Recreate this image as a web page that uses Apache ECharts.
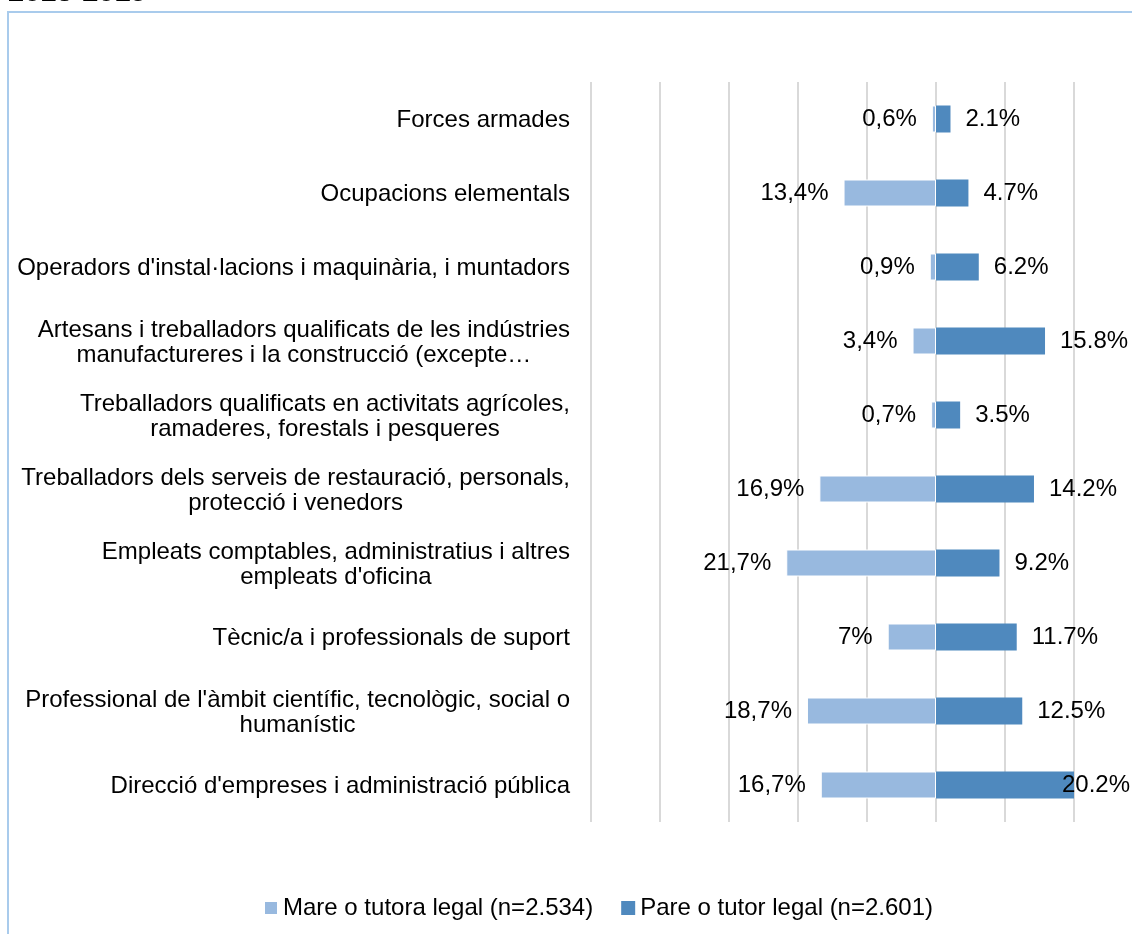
<!DOCTYPE html>
<html>
<head>
<meta charset="utf-8">
<script src="https://cdn.jsdelivr.net/npm/echarts@6/dist/echarts.min.js"></script>
<style>
  html, body { margin: 0; padding: 0; background: #fff; }
  #chart { width: 1132px; height: 934px; }
</style>
</head>
<body>
<div id="chart"></div>
<script>
// categories, top to bottom
const categories = [
  "Forces armades",
  "Ocupacions elementals",
  "Operadors d'instal·lacions i maquinària, i muntadors",
  "Artesans i treballadors qualificats de les indústries\nmanufactureres i la construcció (excepte…",
  "Treballadors qualificats en activitats agrícoles,\nramaderes, forestals i pesqueres",
  "Treballadors dels serveis de restauració, personals,\nprotecció i venedors",
  "Empleats comptables, administratius i altres\nempleats d'oficina",
  "Tècnic/a i professionals de suport",
  "Professional de l'àmbit científic, tecnològic, social o\nhumanístic",
  "Direcció d'empreses i administració pública"
];
const mare = [0.6, 13.4, 0.9, 3.4, 0.7, 16.9, 21.7, 7, 18.7, 16.7];
const pare = [2.1, 4.7, 6.2, 15.8, 3.5, 14.2, 9.2, 11.7, 12.5, 20.2];
const seriesNames = ["Mare o tutora legal (n=2.534)", "Pare o tutor legal (n=2.601)"];
const title = "2013-2019";

const FONT = "'Liberation Sans', Arial, sans-serif";
const FS = 24;
const axisMin = -50, axisMax = 20;

const chart = echarts.init(document.getElementById("chart"));

const option = {
  animation: false,
  textStyle: { fontFamily: FONT },
  color: ["#98B9DF", "#4F89BE"],
  graphic: [
    {
      type: "rect",
      shape: { x: 8, y: 12, width: 1300, height: 1100 },
      style: { fill: "none", stroke: "#A9CBEC", lineWidth: 2 },
      silent: true
    },
    {
      type: "text",
      x: 8, y: 7,
      style: {
        text: title,
        font: "bold 29px " + FONT,
        fill: "#000",
        verticalAlign: "bottom"
      },
      silent: true
    }
  ],
  legend: {
    left: 258,
    top: 891,
    itemWidth: 14,
    itemHeight: 14,
    itemGap: 28,
    icon: "rect",
    textStyle: { fontSize: FS, color: "#000", fontFamily: FONT },
    data: seriesNames
  },
  grid: { left: 591, right: 58, top: 82, bottom: 112, containLabel: false },
  xAxis: {
    type: "value",
    min: axisMin,
    max: axisMax,
    interval: 10,
    axisLabel: { show: false },
    axisLine: { show: false },
    axisTick: { show: false },
    splitLine: { show: true, lineStyle: { color: "#D9D9D9", width: 2 } }
  },
  yAxis: {
    type: "category",
    inverse: true,
    data: categories,
    axisLine: { show: false },
    axisTick: { show: false },
    axisLabel: {
      margin: 21,
      align: "right",
      color: "#000",
      formatter: function (v) {
        return v.split("\n").map(function (l) { return "{c|" + l + "}"; }).join("\n");
      },
      rich: {
        c: { align: "center", fontSize: FS, lineHeight: 25, color: "#000", fontFamily: FONT, padding: [3, 0, 0, 0] }
      }
    }
  },
  series: [
    {
      name: seriesNames[0],
      type: "bar",
      barWidth: 27,
      barGap: "-100%",
      data: mare.map(function (v) { return -v; }),
      itemStyle: { borderColor: "#fff", borderWidth: 1 },
      label: {
        show: true,
        position: "left",
        distance: 15,
        fontSize: FS,
        color: "#000",
        fontFamily: FONT,
        formatter: function (p) { return String(Math.abs(p.value)).replace(".", ",") + "%"; }
      }
    },
    {
      name: seriesNames[1],
      type: "bar",
      barWidth: 27,
      barGap: "-100%",
      data: pare.map(function (v) {
        return v > axisMax ? { value: v, label: { distance: -12 } } : v;
      }),
      label: {
        show: true,
        position: "right",
        distance: 15,
        fontSize: FS,
        color: "#000",
        fontFamily: FONT,
        formatter: function (p) { return p.value + "%"; }
      }
    }
  ]
};

chart.setOption(option);
</script>
</body>
</html>
